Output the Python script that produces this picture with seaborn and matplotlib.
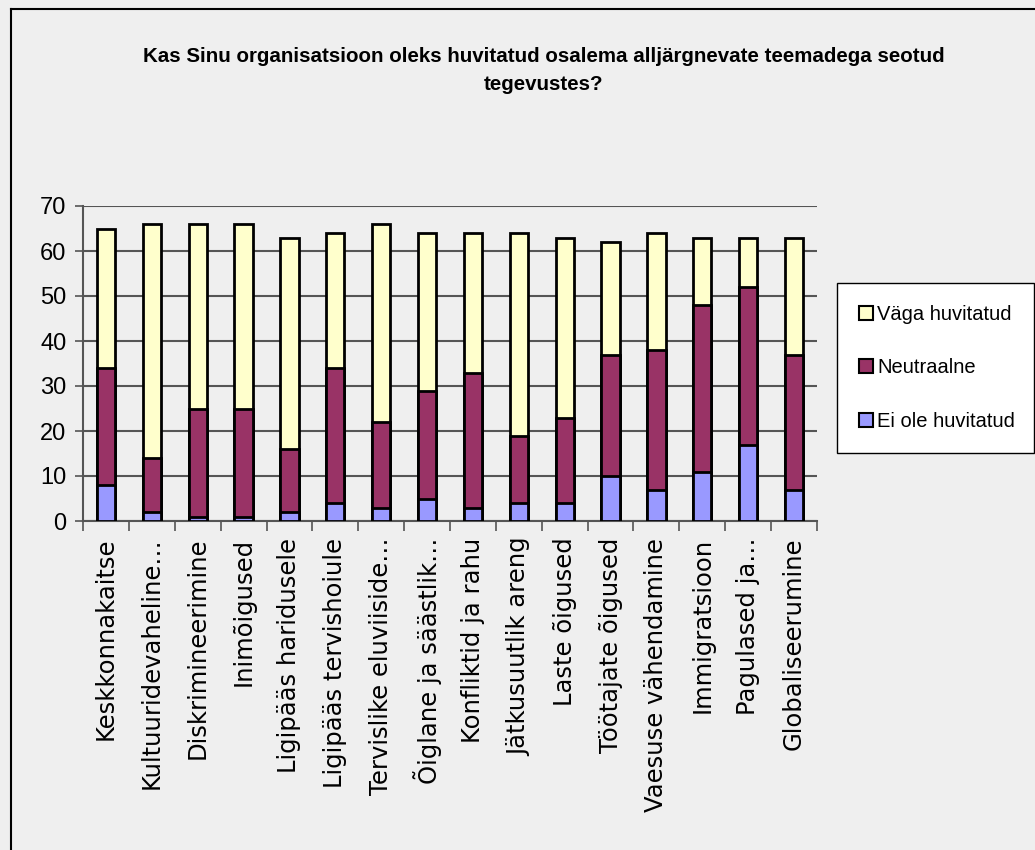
import pandas as pd
import seaborn as sns
import matplotlib.pyplot as plt
from matplotlib.lines import Line2D

# Andmed
teemad = ["Keskkonnakaitse", "Kultuuridevaheline…", "Diskrimineerimine", "Inimõigused",
          "Ligipääs haridusele", "Ligipääs tervishoiule", "Tervislike eluviiside…",
          "Õiglane ja säästlik…", "Konfliktid ja rahu", "Jätkusuutlik areng",
          "Laste õigused", "Töötajate õigused", "Vaesuse vähendamine",
          "Immigratsioon", "Pagulased ja…", "Globaliseerumine"]
ei_ole = [8, 2, 1, 1, 2, 4, 3, 5, 3, 4, 4, 10, 7, 11, 17, 7]
neutraalne = [26, 12, 24, 24, 14, 30, 19, 24, 30, 15, 19, 27, 31, 37, 35, 30]
vaga = [31, 52, 41, 41, 47, 30, 44, 35, 31, 45, 40, 25, 26, 15, 11, 26]
seeriad = ["Väga huvitatud", "Neutraalne", "Ei ole huvitatud"]
varvid = {"Väga huvitatud": "#FFFFCC", "Neutraalne": "#993366", "Ei ole huvitatud": "#9999FF"}

df = pd.DataFrame({"teema": teemad, "ei": ei_ole, "neutr": neutraalne, "vaga": vaga})
df["kum_ei"] = df["ei"]
df["kum_neutr"] = df["ei"] + df["neutr"]
df["kum_vaga"] = df["kum_neutr"] + df["vaga"]

bg = "#EFEFEF"
plt.rcParams["font.family"] = ["Liberation Sans", "DejaVu Sans"]

fig = plt.figure(figsize=(10.35, 8.5), dpi=100, facecolor=bg)
ax = fig.add_axes([83 / 1035, 1 - 521 / 850, 734 / 1035, 315 / 850])
ax.set_facecolor(bg)

# virnastatud tulbad: kõigepealt kõrgeimad kumulatiivsed
for col, nimi in [("kum_vaga", seeriad[0]), ("kum_neutr", seeriad[1]), ("kum_ei", seeriad[2])]:
    sns.barplot(data=df, x="teema", y=col, color=varvid[nimi], saturation=1,
                width=0.4, edgecolor="black", linewidth=2, ax=ax, zorder=3)

ax.set_ylim(0, 70)
ax.set_xlim(-0.5, len(teemad) - 0.5)
ax.set_yticks(range(0, 71, 10))
ax.yaxis.grid(True, color="#555555", linewidth=1.5, zorder=0)
ax.set_axisbelow(True)
ax.set_xlabel("")
ax.set_ylabel("")
for s in ["top", "right"]:
    ax.spines[s].set_visible(False)
for s in ["left", "bottom"]:
    ax.spines[s].set_color("#555555")
    ax.spines[s].set_linewidth(1.5)

ax.tick_params(axis="y", labelsize=17, length=6, width=1.2, color="#555555", pad=6)
ax.set_xticks(range(len(teemad)))
ax.set_xticklabels(teemad, rotation=90, fontsize=17.5, family="DejaVu Sans", va="top")
ax.tick_params(axis="x", length=0, pad=12)
# tikid kategooriate vahel
ax.set_xticks([i - 0.5 for i in range(len(teemad) + 1)], minor=True)
ax.tick_params(axis="x", which="minor", length=7, width=1.2, color="#555555")

plt.suptitle("Kas Sinu organisatsioon oleks huvitatud osalema alljärgnevate teemadega seotud\ntegevustes?",
             x=544 / 1035, y=1 - 47 / 850, fontsize=14.8, fontweight="bold", linespacing=1.6)

handles = [plt.Rectangle((0, 0), 1, 1, facecolor=varvid[n], edgecolor="black", linewidth=1.5) for n in seeriad]
leg = fig.legend(handles, seeriad, loc="upper left",
                 bbox_to_anchor=(837 / 1035, 1 - 283 / 850, 197 / 1035, 0), mode="expand",
                 fontsize=14.5, frameon=True, fancybox=False, framealpha=1, edgecolor="black",
                 handlelength=0.7, handleheight=0.7, handletextpad=0.2, labelspacing=1.7,
                 borderpad=1.1, borderaxespad=0)
leg.get_frame().set_linewidth(1)

# ääris
fig.add_artist(Line2D([11 / 1035, 1], [1 - 9 / 850, 1 - 9 / 850], color="black", lw=1.5, transform=fig.transFigure))
fig.add_artist(Line2D([11 / 1035, 11 / 1035], [0, 1 - 9 / 850], color="black", lw=1.5, transform=fig.transFigure))

plt.savefig("out.png", dpi=100, facecolor=bg)
